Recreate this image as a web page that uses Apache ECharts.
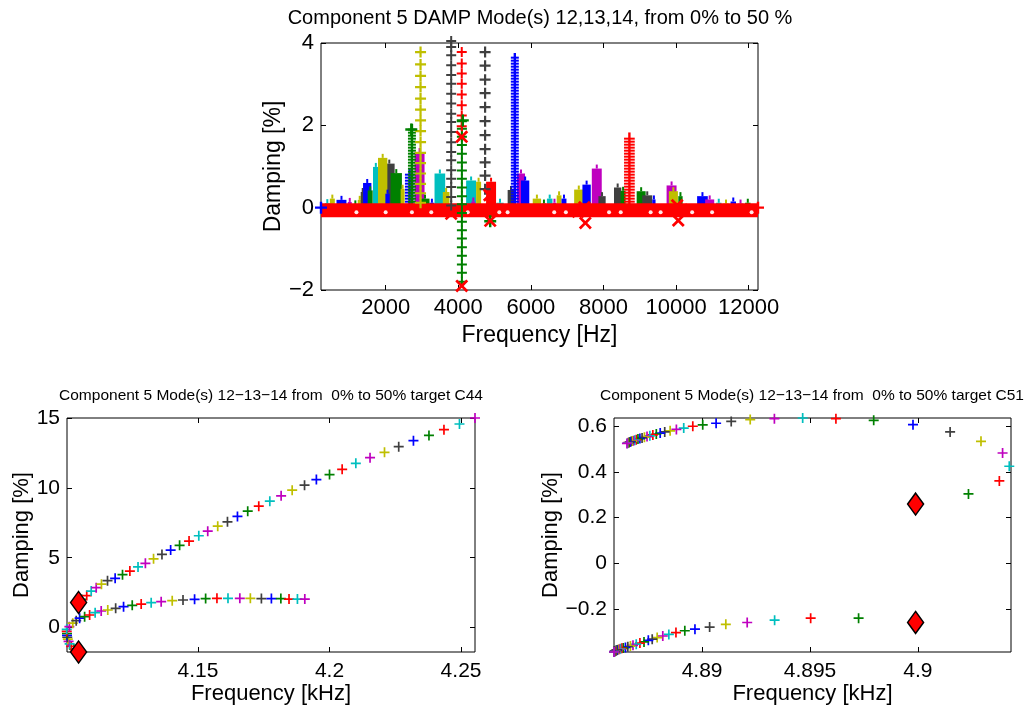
<!DOCTYPE html>
<html>
<head>
<meta charset="utf-8">
<script src="https://cdn.jsdelivr.net/npm/echarts@6/dist/echarts.min.js"></script>
<style>html,body{margin:0;padding:0;background:#fff}#c{width:1025px;height:706px}</style>
</head>
<body>
<div id="c"></div>
<script>
// MATLAB colour cycle b g r c m y k
const COLORS = ['#0000FF','#008000','#FF0000','#00BFBF','#BF00BF','#BFBF00','#404040'];

// ---------- TOP PLOT DATA ----------
const TITLE_TOP = 'Component 5 DAMP Mode(s) 12,13,14, from 0% to 50 %';
const topXTicks = [2000,4000,6000,8000,10000,12000];
const topYTicks = [-2,0,2,4];
// solid stacks of markers: [fStart, fEnd, damping top, colour index]
const topBars = [
 [324,462,0.11,3],[462,600,0.22,5],[646,920,0.19,0],[956,1066,0.14,4],[1100,1230,0.08,1],[1231,1341,0.19,5],
 [1313,1423,0.38,6],[1377,1607,0.60,0],[1505,1643,0.42,1],[1953,2247,1.07,6],[1651,1808,0.99,3],[1789,2047,1.21,5],
 [1992,2110,0.34,0],[2137,2448,0.84,1],[2412,2522,0.46,5],[2797,3071,1.35,4],[2961,3208,0.22,1],[3208,3340,0.12,0],
 [3346,3640,0.83,3],[3574,3758,0.38,5],[4216,4491,0.66,3],[4360,4470,0.15,4],[4491,4629,0.63,5],[4766,5041,0.63,2],
 [5050,5250,0.12,3],[5360,5544,0.43,6],[5618,5838,0.83,4],[5728,5956,0.66,0],[6051,6281,0.22,5],[6300,6420,0.10,1],
 [6442,6595,0.22,3],[6600,6700,0.12,4],[6711,6843,0.30,5],[6843,6980,0.22,0],[7192,7448,0.44,5],[7420,7650,0.56,0],
 [7678,7952,0.95,4],[7860,8060,0.28,6],[8290,8491,0.49,6],[8471,8609,0.41,1],[8914,9161,0.40,1],[9068,9343,0.30,6],
 [9343,9434,0.20,0],[9738,10013,0.54,4],[9800,10050,0.40,5],[10060,10180,0.28,1],[10579,10873,0.28,0],[10800,11050,0.20,4],
 [11100,11250,0.12,3],[11300,11450,0.10,5],[11500,11650,0.15,0],[11700,11850,0.10,4],[11900,12050,0.12,1]
];
// densely stacked '+' ladders: [fStart, fEnd, damping top, colour index]
const topLadders = [
 [2531,2787,0.84,0],[2614,2834,1.94,1],[5448,5668,3.66,0],[8566,8861,1.73,2]
];
// sparse '+' columns
const colYellowF = 2961;
const colYellowD = [3.78,3.48,3.20,2.93,2.65,2.38,2.12,1.86,1.59,1.33,1.08,0.83,0.58,0.35,0.12];
const colBlack1F = 3805;
const colBlack1D = [4.05,3.90,3.70,3.46,3.22,3.01,2.77,2.53,2.28,2.08,1.84,1.59,1.35,1.15,0.91,0.70,0.50,0.26,0.05];
const colRedF = 4096;
const colRedD = [3.78,3.50,3.26,3.01,2.75,2.49,2.24,1.98];
const colGreenF = 4100;
const colGreenD = [2.10,1.92,1.72,1.52,1.31,1.10,0.90,0.70,0.49,0.28,0.08,-0.13,-0.34,-0.55,-0.75,-0.96,-1.17,-1.38,-1.58,-1.80];
const colBlack2F = 4739;
const colBlack2D = [3.78,3.45,3.11,2.78,2.44,2.10,1.76,1.42,1.10,0.78,0.45];
// red band of '+' markers along zero damping
const topBand = [[219,-0.06],[12256,-0.06]];
const topWhiteDots = [1195,2000,2723,3256,4261,5130,5359,6643,6964,8153,8475,9299,9574,10442,10991,12080];
// red 'x' markers [f, d]
const topRedX = [[3805,-0.15],[4096,1.72],[4096,-1.90],[4857,0.30],[4900,-0.05],[4880,-0.32],[7474,0.01],[7500,-0.37],[7300,-0.10],[10030,0.06],[10060,-0.31],[10150,-0.05]];
// single '+' markers [f, d, colour index]
const topSinglePlus = [[219,0,0],[12256,0,2],[4880,-0.33,1],[4125,2.12,1],[2706,1.90,1]];

// ---------- BOTTOM LEFT (target C44) ----------
const TITLE_BL = 'Component 5 Mode(s) 12\u221213\u221214 from  0% to 50% target C44';
const blXTicks = [4.15,4.2,4.25];
const blYTicks = [0,5,10,15];
const blUpper = [
 [4.1046,1.78],[4.1058,2.00],[4.1077,2.28],[4.1094,2.60],[4.1113,2.85],[4.1133,3.10],[4.1156,3.35],[4.1185,3.52],
 [4.1213,3.78],[4.1241,4.04],[4.1272,4.34],[4.1300,4.60],[4.1331,4.92],[4.1363,5.24],[4.1396,5.55],[4.1430,5.89],
 [4.1466,6.20],[4.1503,6.58],[4.1537,6.91],[4.1575,7.27],[4.1612,7.58],[4.1650,7.97],[4.1689,8.35],[4.1731,8.71],
 [4.1773,9.07],[4.1816,9.45],[4.1858,9.86],[4.1905,10.22],[4.1950,10.62],[4.2000,10.98],[4.2048,11.36],[4.2100,11.79],
 [4.2154,12.20],[4.2209,12.58],[4.2263,12.99],[4.2319,13.42],[4.2378,13.80],[4.2435,14.21],[4.2494,14.62],[4.2553,15.05]
];
const blLower = [
 [4.1046,-1.78],[4.1028,-1.56],[4.1018,-1.38],[4.1012,-1.20],[4.1008,-1.02],[4.1005,-0.86],[4.1003,-0.72],[4.1002,-0.58],
 [4.1002,-0.45],[4.1001,-0.30],[4.1001,-0.15],[4.1011,0.04],[4.1024,0.29],[4.1037,0.47],[4.1050,0.65],[4.1069,0.76],
 [4.1088,0.88],[4.1109,1.05],[4.1132,1.17],[4.1157,1.24],[4.1187,1.36],[4.1217,1.48],[4.1250,1.58],[4.1284,1.67],
 [4.1322,1.77],[4.1360,1.84],[4.1402,1.91],[4.1443,1.96],[4.1487,2.01],[4.1529,2.06],[4.1572,2.08],[4.1614,2.08],
 [4.1659,2.08],[4.1699,2.08],[4.1741,2.06],[4.1779,2.06],[4.1815,2.06],[4.1846,2.03],[4.1878,2.03],[4.1906,2.03]
];
const blTargets = [[4.1046,1.78],[4.1046,-1.78]];

// ---------- BOTTOM RIGHT (target C51) ----------
const TITLE_BR = 'Component 5 Mode(s) 12\u221213\u221214 from  0% to 50% target C51';
const brXTicks = [4.89,4.895,4.9];
const brYTicks = [-0.2,0,0.2,0.4,0.6];
const brUpper = [
 [4.89989,0.259],[4.90234,0.303],[4.90377,0.360],[4.90423,0.424],[4.90392,0.482],[4.90292,0.533],[4.90149,0.574],[4.89977,0.606],
 [4.89795,0.625],[4.89620,0.632],[4.89466,0.635],[4.89335,0.632],[4.89223,0.628],[4.89135,0.620],[4.89065,0.612],[4.89003,0.605],
 [4.88957,0.599],[4.88915,0.591],[4.88881,0.585],[4.88852,0.579],[4.88827,0.574],[4.88806,0.569],[4.88788,0.565],[4.88772,0.561],
 [4.88758,0.557],[4.88745,0.554],[4.88733,0.551],[4.88722,0.548],[4.88712,0.545],[4.88703,0.543],[4.88695,0.540],[4.88688,0.538],
 [4.88682,0.536],[4.88676,0.534],[4.88671,0.532],[4.88666,0.530],[4.88662,0.528],[4.88658,0.527],[4.88655,0.525],[4.88652,0.524]
];
const brLower = [
 [4.89989,-0.259],[4.89725,-0.240],[4.89503,-0.240],[4.89336,-0.249],[4.89209,-0.259],[4.89110,-0.267],[4.89035,-0.279],[4.88967,-0.288],
 [4.88920,-0.295],[4.88879,-0.303],[4.88846,-0.311],[4.88818,-0.318],[4.88792,-0.325],[4.88769,-0.332],[4.88751,-0.337],[4.88731,-0.344],
 [4.88712,-0.349],[4.88695,-0.354],[4.88680,-0.359],[4.88668,-0.362],[4.88656,-0.365],[4.88645,-0.368],[4.88635,-0.370],[4.88628,-0.372],
 [4.88622,-0.374],[4.88617,-0.376],[4.88612,-0.377],[4.88608,-0.379],[4.88605,-0.380],[4.88602,-0.381],[4.88600,-0.382],[4.88598,-0.383],
 [4.88597,-0.384],[4.88596,-0.385],[4.88595,-0.385],[4.88594,-0.386],[4.88593,-0.387],[4.88593,-0.387],[4.88592,-0.388],[4.88592,-0.388]
];
const brTargets = [[4.89989,0.259],[4.89989,-0.259]];

// ---------- rendering ----------
const FONT = 'Liberation Sans, Arial, Helvetica, sans-serif';
const PLUS = 'path://M-0.85,-5L0.85,-5L0.85,-0.85L5,-0.85L5,0.85L0.85,0.85L0.85,5L-0.85,5L-0.85,0.85L-5,0.85L-5,-0.85L-0.85,-0.85Z';
const PLUS_T = 'path://M-1,-5L1,-5L1,-1L5,-1L5,1L1,1L1,5L-1,5L-1,1L-5,1L-5,-1L-1,-1Z';
const XMARK = 'path://M-5,-3.5L-3.5,-5L0,-1.5L3.5,-5L5,-3.5L1.5,0L5,3.5L3.5,5L0,1.5L-3.5,5L-5,3.5L-1.5,0Z';
const minus = s => String(s).replace('-', '\u2212');
const TICK = {show:true, inside:true, length:5, lineStyle:{color:'#000'}};

function xPair(grid, min, max, ticks, fmt, name, fs, nameGap, margin) {
  return [
    {type:'value', gridIndex:grid, position:'bottom', min:min, max:max, name:name, nameLocation:'middle', nameGap:nameGap,
     nameTextStyle:{fontSize:fs+1, fontFamily:FONT, color:'#000'},
     axisLine:{show:false, onZero:false}, splitLine:{show:false},
     axisTick:Object.assign({customValues:ticks}, TICK),
     axisLabel:{show:true, fontSize:fs, fontFamily:FONT, color:'#000', margin:margin, customValues:ticks, formatter:fmt}},
    {type:'value', gridIndex:grid, position:'top', min:min, max:max,
     axisLine:{show:false, onZero:false}, splitLine:{show:false}, axisLabel:{show:false},
     axisTick:Object.assign({customValues:ticks}, TICK)}
  ];
}
function yPair(grid, min, max, ticks, fmt, name, fs, nameGap) {
  return [
    {type:'value', gridIndex:grid, position:'left', min:min, max:max, name:name, nameLocation:'middle', nameGap:nameGap,
     nameTextStyle:{fontSize:fs+1, fontFamily:FONT, color:'#000'},
     axisLine:{show:false, onZero:false}, splitLine:{show:false},
     axisTick:Object.assign({customValues:ticks}, TICK),
     axisLabel:{show:true, fontSize:fs, fontFamily:FONT, color:'#000', margin:7, customValues:ticks, formatter:fmt}},
    {type:'value', gridIndex:grid, position:'right', min:min, max:max,
     axisLine:{show:false, onZero:false}, splitLine:{show:false}, axisLabel:{show:false},
     axisTick:Object.assign({customValues:ticks}, TICK)}
  ];
}

function renderBars(params, api) {
  const f0 = api.value(0), f1 = api.value(1), h = api.value(2), c = api.value(3);
  const a = api.coord([f0, 0]), b = api.coord([f1, h]);
  const col = COLORS[c];
  const cx = (a[0] + b[0]) / 2;
  return {type:'group', children:[
    {type:'rect', shape:{x:a[0], y:b[1], width:b[0]-a[0], height:a[1]-b[1]}, style:{fill:col}},
    {type:'rect', shape:{x:cx-1, y:b[1]-4, width:2, height:4}, style:{fill:col}}
  ]};
}
function renderLadder(params, api) {
  const f0 = api.value(0), f1 = api.value(1), h = api.value(2), c = api.value(3);
  const a = api.coord([f0, 0]), b = api.coord([f1, h]);
  const col = COLORS[c];
  const cx = (a[0] + b[0]) / 2;
  const ch = [{type:'rect', shape:{x:cx-1.2, y:b[1]-4, width:2.4, height:a[1]-b[1]+4}, style:{fill:col}}];
  for (let y = a[1]; y >= b[1]; y -= 3) {
    ch.push({type:'rect', shape:{x:a[0], y:y-1, width:b[0]-a[0], height:2}, style:{fill:col}});
  }
  return {type:'group', children:ch};
}
const col = (f, ds) => ds.map(d => [f, d]);
const byIndex = p => COLORS[p.dataIndex % 7];
const plusSeries = (xi, data, color, size, z) => ({type:'scatter', xAxisIndex:xi, yAxisIndex:xi, data:data, symbol:PLUS_T, symbolSize:size,
  itemStyle:{color:color, opacity:1}, clip:false, z:z});

const option = {
  animation:false,
  backgroundColor:'#fff',
  grid:[
    {left:321, top:43, width:437, height:247, show:true, borderColor:'#000', borderWidth:1, backgroundColor:'transparent'},
    {left:67, top:418, width:408, height:234, show:true, borderColor:'#000', borderWidth:1, backgroundColor:'transparent'},
    {left:614, top:418, width:397, height:234, show:true, borderColor:'#000', borderWidth:1, backgroundColor:'transparent'}
  ],
  xAxis:[].concat(
    xPair(0, 219, 12256, topXTicks, v => String(v), 'Frequency [Hz]', 22, 34, 7),
    xPair(1, 4.1002, 4.2553, blXTicks, v => String(v), 'Frequency [kHz]', 21, 29, 9),
    xPair(2, 4.88592, 4.90431, brXTicks, v => String(v), 'Frequency [kHz]', 21, 29, 9)
  ),
  yAxis:[].concat(
    yPair(0, -2, 4, topYTicks, v => minus(v), 'Damping [%]', 22, 36),
    yPair(1, -1.78, 15.05, blYTicks, v => minus(v), 'Damping [%]', 21, 34),
    yPair(2, -0.388, 0.635, brYTicks, v => v === 0 ? '0' : minus(v.toFixed(1)), 'Damping [%]', 21, 52)
  ),
  graphic:[
    {type:'text', x:540, y:18, style:{text:TITLE_TOP, fontSize:20, fontFamily:FONT, fill:'#000', align:'center', verticalAlign:'middle'}},
    {type:'text', x:271, y:396, style:{text:TITLE_BL, fontSize:15.5, fontFamily:FONT, fill:'#000', align:'center', verticalAlign:'middle'}},
    {type:'text', x:812, y:396, style:{text:TITLE_BR, fontSize:15.5, fontFamily:FONT, fill:'#000', align:'center', verticalAlign:'middle'}}
  ],
  series:[
    {type:'custom', xAxisIndex:0, yAxisIndex:0, data:topBars, renderItem:renderBars, encode:{x:[0,1], y:[2]}, z:2},
    {type:'custom', xAxisIndex:0, yAxisIndex:0, data:topLadders, renderItem:renderLadder, encode:{x:[0,1], y:[2]}, z:3},
    {type:'line', xAxisIndex:0, yAxisIndex:0, data:topBand, symbol:'none', lineStyle:{color:'#FF0000', width:14, cap:'butt'}, z:4},
    {type:'scatter', xAxisIndex:0, yAxisIndex:0, data:topWhiteDots.map(f => [f, -0.11]), symbol:'circle', symbolSize:4,
     itemStyle:{color:'#fff', opacity:0.9}, z:5},
    plusSeries(0, col(colYellowF, colYellowD), COLORS[5], 11, 6),
    plusSeries(0, col(colBlack1F, colBlack1D), COLORS[6], 10, 6),
    plusSeries(0, col(colBlack2F, colBlack2D), COLORS[6], 11, 6),
    plusSeries(0, col(colGreenF, colGreenD), COLORS[1], 10, 6),
    plusSeries(0, col(colRedF, colRedD), COLORS[2], 10, 7),
    {type:'scatter', xAxisIndex:0, yAxisIndex:0, data:topSinglePlus.map(p => ({value:[p[0], p[1]], itemStyle:{color:COLORS[p[2]], opacity:1}})),
     symbol:PLUS_T, symbolSize:12, clip:false, z:7},
    {type:'scatter', xAxisIndex:0, yAxisIndex:0, data:topRedX, symbol:XMARK, symbolSize:13, itemStyle:{color:'#FF0000', opacity:1}, clip:false, z:8},

    {type:'scatter', xAxisIndex:2, yAxisIndex:2, data:blUpper, symbol:PLUS, symbolSize:10, itemStyle:{color:byIndex, opacity:1}, clip:false, z:5},
    {type:'scatter', xAxisIndex:2, yAxisIndex:2, data:blLower, symbol:PLUS, symbolSize:10, itemStyle:{color:byIndex, opacity:1}, clip:false, z:5},
    {type:'scatter', xAxisIndex:2, yAxisIndex:2, data:blTargets, symbol:'diamond', symbolSize:[16,22],
     itemStyle:{color:'#FF0000', borderColor:'#000', borderWidth:1.5, opacity:1}, clip:false, z:6},

    {type:'scatter', xAxisIndex:4, yAxisIndex:4, data:brUpper, symbol:PLUS, symbolSize:10, itemStyle:{color:byIndex, opacity:1}, clip:false, z:5},
    {type:'scatter', xAxisIndex:4, yAxisIndex:4, data:brLower, symbol:PLUS, symbolSize:10, itemStyle:{color:byIndex, opacity:1}, clip:false, z:5},
    {type:'scatter', xAxisIndex:4, yAxisIndex:4, data:brTargets, symbol:'diamond', symbolSize:[16,22],
     itemStyle:{color:'#FF0000', borderColor:'#000', borderWidth:1.5, opacity:1}, clip:false, z:6}
  ]
};
const chart = echarts.init(document.getElementById('c'), null, {renderer:'canvas'});
chart.setOption(option);
</script>
</body>
</html>
